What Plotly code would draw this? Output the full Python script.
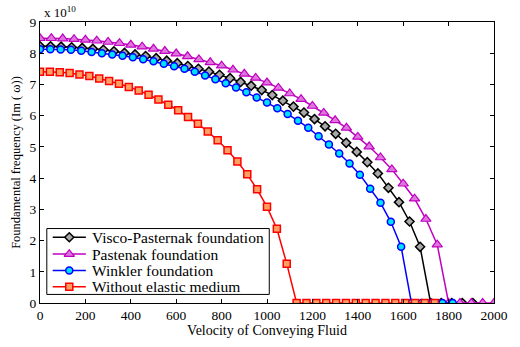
import plotly.graph_objects as go

# ---- data (values in units of 1e10) ----
x_visco = [round(i * 2000 / 43, 2) for i in range(42)]
y_visco = [8.22, 8.22, 8.21, 8.19, 8.17, 8.14, 8.11, 8.06, 8.01, 7.96,
           7.91, 7.84, 7.76, 7.68, 7.59, 7.50, 7.41, 7.31, 7.20, 7.08,
           6.96, 6.82, 6.66, 6.48, 6.29, 6.10, 5.89, 5.66, 5.42, 5.13,
           4.84, 4.51, 4.15, 3.69, 3.23, 2.61, 1.80, 0, 0, 0, 0, 0]

x_paste = [i * 50 for i in range(41)]
y_paste = [8.48, 8.48, 8.47, 8.45, 8.43, 8.40, 8.36, 8.32, 8.27, 8.21,
           8.14, 8.07, 7.99, 7.90, 7.80, 7.71, 7.60, 7.47, 7.34, 7.21,
           7.06, 6.89, 6.71, 6.53, 6.31, 6.09, 5.85, 5.61, 5.32, 5.01,
           4.66, 4.28, 3.82, 3.34, 2.69, 1.87, 0, 0, 0, 0, 0]

x_wink = [round(i * 2000 / 44, 2) for i in range(41)]
y_wink = [8.13, 8.13, 8.12, 8.11, 8.08, 8.04, 8.00, 7.96, 7.92, 7.87,
          7.81, 7.74, 7.66, 7.58, 7.50, 7.41, 7.29, 7.17, 7.04, 6.90,
          6.75, 6.58, 6.42, 6.24, 6.05, 5.84, 5.61, 5.34, 5.08, 4.79,
          4.47, 4.11, 3.66, 3.21, 2.60, 1.80, 0, 0, 0, 0, 0]

x_free = [round(i * 2000 / 46, 2) for i in range(41)]
y_free = [7.41, 7.41, 7.39, 7.37, 7.32, 7.27, 7.19, 7.11, 7.02, 6.92,
          6.81, 6.67, 6.52, 6.35, 6.17, 5.96, 5.74, 5.49, 5.21, 4.89,
          4.53, 4.12, 3.64, 3.08, 2.38, 1.26, 0, 0, 0, 0,
          0, 0, 0, 0, 0, 0, 0, 0, 0, 0, 0]

series_names = ["Visco-Pasternak foundation", "Pastenak foundation",
                "Winkler foundation", "Without elastic medium"]

x_ticks = list(range(0, 2001, 200))
y_ticks = list(range(0, 10))

FONT = "Liberation Serif, Times New Roman, DejaVu Serif, serif"

styles = [
    dict(line=dict(color="black", width=1.5),
         marker=dict(symbol="diamond", size=7, color="#a8a8a8", line=dict(color="black", width=1.5))),
    dict(line=dict(color="#c000c0", width=1.5),
         marker=dict(symbol="triangle-up", size=9, color="#dd77dd", line=dict(color="#c000c0", width=1.2))),
    dict(line=dict(color="#0000ff", width=1.5),
         marker=dict(symbol="circle", size=7, color="#00e0ff", line=dict(color="#0000ff", width=1.5))),
    dict(line=dict(color="#ff0000", width=1.5),
         marker=dict(symbol="square", size=7, color="#ffa060", line=dict(color="#ff0000", width=1.5))),
]
data = [(x_visco, y_visco), (x_paste, y_paste), (x_wink, y_wink), (x_free, y_free)]

fig = go.Figure()
for (xs, ys), name, st in zip(data, series_names, styles):
    fig.add_trace(go.Scatter(x=xs, y=ys, mode="lines+markers", name=name,
                             line=st["line"], marker=st["marker"], showlegend=False))

# ---- hand-built legend (in plot-area fractions) ----
leg_x0, leg_x1, leg_y0, leg_y1 = 0.015, 0.505, 0.0305, 0.265
row_y = [0.234, 0.174, 0.116, 0.058]
ln_x0, ln_xm, ln_x1, txt_x = 0.028, 0.0645, 0.101, 0.110

shapes = [dict(type="rect", xref="x domain", yref="y domain",
               x0=leg_x0, x1=leg_x1, y0=leg_y0, y1=leg_y1,
               line=dict(color="black", width=1), fillcolor="white", layer="below")]
annotations = [dict(text="x 10<sup>10</sup>", xref="paper", yref="paper",
                    x=0.0, y=1.0, xanchor="left", yanchor="bottom",
                    showarrow=False, font=dict(family=FONT, size=13), xshift=2)]
for ry, name, st in zip(row_y, series_names, styles):
    shapes.append(dict(type="line", xref="x domain", yref="y domain",
                       x0=ln_x0, x1=ln_x1, y0=ry, y1=ry,
                       line=st["line"], layer="below"))
    annotations.append(dict(text=name, xref="x domain", yref="y domain",
                            x=txt_x, y=ry, xanchor="left", yanchor="middle",
                            showarrow=False, font=dict(family=FONT, size=15.5)))
    fig.add_trace(go.Scatter(x=[ln_xm], y=[ry], mode="markers", xaxis="x2", yaxis="y2",
                             marker=st["marker"], showlegend=False, hoverinfo="skip"))

fig.update_layout(
    width=520, height=347,
    margin=dict(l=40, r=15, t=22, b=39),
    paper_bgcolor="white", plot_bgcolor="white",
    font=dict(family=FONT, size=13, color="black"),
    showlegend=False,
    shapes=shapes,
    annotations=annotations,
    xaxis=dict(range=[0, 2000], tickvals=x_ticks, ticktext=[str(v) for v in x_ticks],
               ticks="inside", ticklen=4, tickcolor="black", showline=True,
               linecolor="black", linewidth=1, mirror="ticks", showgrid=False, zeroline=False,
               tickfont=dict(family=FONT, size=13.5),
               title=dict(text="Velocity of Conveying Fluid", font=dict(family=FONT, size=14), standoff=2)),
    yaxis=dict(range=[0, 9], tickvals=y_ticks, ticktext=[str(v) for v in y_ticks],
               ticks="inside", ticklen=4, tickcolor="black", showline=True,
               linecolor="black", linewidth=1, mirror="ticks", showgrid=False, zeroline=False,
               tickfont=dict(family=FONT, size=13.5),
               title=dict(text="Foundamental frequency (Im ( ω))", font=dict(family=FONT, size=12.5), standoff=6)),
    xaxis2=dict(overlaying="x", range=[0, 1], visible=False, anchor="y2"),
    yaxis2=dict(overlaying="y", range=[0, 1], visible=False, anchor="x2"),
)

fig.write_html("out.html")
